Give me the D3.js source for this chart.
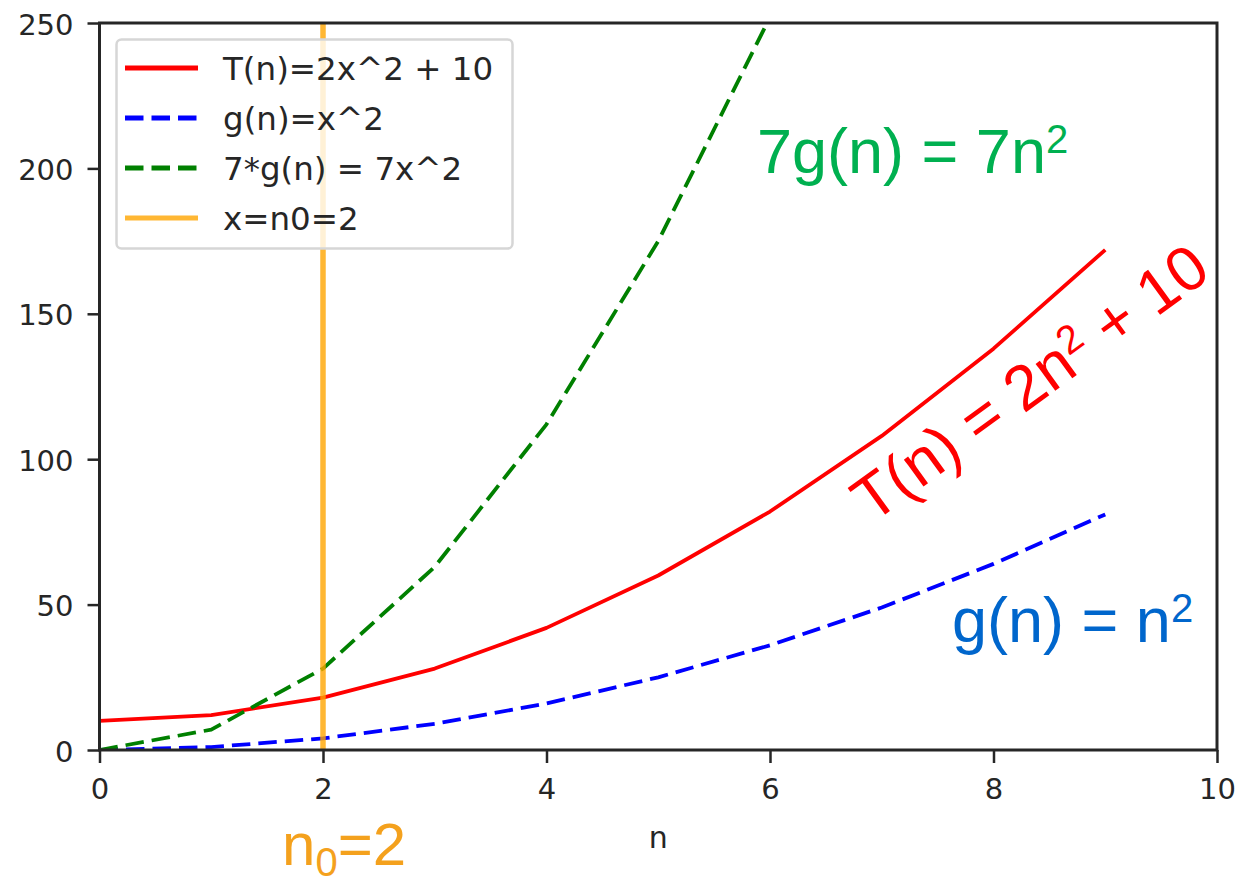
<!DOCTYPE html>
<html>
<head>
<meta charset="utf-8">
<script src="https://cdn.jsdelivr.net/npm/d3@7"></script>
<style>
  html, body { margin: 0; padding: 0; background: #fff; }
  svg { display: block; }
</style>
</head>
<body>
<svg id="chart" width="1235" height="886"></svg>
<script>
// ---------- data ----------
const nValues  = [0, 1, 2, 3, 4, 5, 6, 7, 8, 9];
const tValues  = [10, 12, 18, 28, 42, 60, 82, 108, 138, 172];   // T(n) = 2n^2 + 10
const gValues  = [0, 1, 4, 9, 16, 25, 36, 49, 64, 81];          // g(n) = n^2
const g7Values = [0, 7, 28, 63, 112, 175, 252, 343, 448, 567];  // 7 g(n)
const n0 = 2;
const xTicks = [0, 2, 4, 6, 8, 10];
const yTicks = [0, 50, 100, 150, 200, 250];
const xDomain = [0, 10];
const yDomain = [0, 250];
const legendLabels = ["T(n)=2x^2 + 10", "g(n)=x^2", "7*g(n) = 7x^2", "x=n0=2"];
const xLabel = "n";

// ---------- layout ----------
const svg = d3.select("#chart");
const plot = { left: 99.5, right: 1217, top: 23, bottom: 750 };
const x = d3.scaleLinear().domain(xDomain).range([plot.left, plot.right]);
const y = d3.scaleLinear().domain(yDomain).range([plot.bottom, plot.top]);

const tickFont = "'DejaVu Sans', sans-serif";
const annFont = "'Liberation Sans', Arial, sans-serif";
const ink = "#262626";

svg.append("rect").attr("width", 1235).attr("height", 886).attr("fill", "#fff");

svg.append("defs").append("clipPath").attr("id", "clip")
  .append("rect")
  .attr("x", plot.left).attr("y", plot.top)
  .attr("width", plot.right - plot.left).attr("height", plot.bottom - plot.top);

// ---------- series ----------
const line = vals => d3.line()
  .x((d, i) => x(nValues[i]))
  .y(d => y(d))(vals);

const series = [
  { vals: tValues,  color: "#ff0000", dash: null,     width: 3.8 },
  { vals: gValues,  color: "#0000ff", dash: "18.5,8", width: 3.8 },
  { vals: g7Values, color: "#008000", dash: "18.5,8", width: 3.8 }
];

const gPlot = svg.append("g").attr("clip-path", "url(#clip)");
series.forEach(s => {
  gPlot.append("path")
    .attr("d", line(s.vals))
    .attr("fill", "none")
    .attr("stroke", s.color)
    .attr("stroke-width", s.width)
    .attr("stroke-dasharray", s.dash)
    .attr("stroke-linejoin", "round");
});

// vertical line at n0
gPlot.append("line")
  .attr("x1", x(n0)).attr("x2", x(n0))
  .attr("y1", plot.top).attr("y2", plot.bottom)
  .attr("stroke", "#ffa500").attr("stroke-opacity", 0.8)
  .attr("stroke-width", 5.5);

// ---------- axes ----------
const xAxis = svg.append("g")
  .attr("transform", `translate(0,${plot.bottom})`)
  .call(d3.axisBottom(x).tickValues(xTicks).tickFormat(d3.format("d"))
        .tickSize(13).tickSizeOuter(0).tickPadding(15));
const yAxis = svg.append("g")
  .attr("transform", `translate(${plot.left},0)`)
  .call(d3.axisLeft(y).tickValues(yTicks).tickFormat(d3.format("d"))
        .tickSize(12).tickSizeOuter(0).tickPadding(14));

[xAxis, yAxis].forEach(a => {
  a.select(".domain").remove();
  a.selectAll(".tick line").attr("stroke", ink).attr("stroke-width", 2.5);
  a.selectAll(".tick text")
    .attr("fill", ink)
    .style("font-family", tickFont)
    .style("font-size", "29px");
});
yAxis.selectAll(".tick text").attr("dy", "0.38em");

// frame (spines)
svg.append("rect")
  .attr("x", plot.left).attr("y", plot.top)
  .attr("width", plot.right - plot.left).attr("height", plot.bottom - plot.top)
  .attr("fill", "none").attr("stroke", ink).attr("stroke-width", 3);

// x label
svg.append("text")
  .attr("x", (plot.left + plot.right) / 2).attr("y", 848)
  .attr("text-anchor", "middle")
  .attr("fill", ink)
  .style("font-family", tickFont).style("font-size", "30px")
  .text(xLabel);

// ---------- legend ----------
const legend = svg.append("g");
legend.append("rect")
  .attr("x", 116.5).attr("y", 39.5).attr("width", 396).attr("height", 209)
  .attr("rx", 5).attr("ry", 5)
  .attr("fill", "#fff").attr("fill-opacity", 0.8)
  .attr("stroke", "#d6d6d6").attr("stroke-width", 2.5);

const legendItems = [
  { color: "#ff0000", dash: null,     opacity: 1 },
  { color: "#0000ff", dash: "18.5,8", opacity: 1 },
  { color: "#008000", dash: "18.5,8", opacity: 1 },
  { color: "#ffa500", dash: null,     opacity: 0.8 }
];
legendItems.forEach((it, i) => {
  const cy = 68 + i * 50;
  legend.append("line")
    .attr("x1", 125).attr("x2", 198).attr("y1", cy).attr("y2", cy)
    .attr("stroke", it.color).attr("stroke-opacity", it.opacity)
    .attr("stroke-width", 5)
    .attr("stroke-dasharray", it.dash);
  legend.append("text")
    .attr("x", 223).attr("y", cy + 12)
    .attr("fill", ink)
    .style("font-family", tickFont).style("font-size", "32.5px")
    .text(legendLabels[i]);
});

// ---------- annotations ----------
function supText(sel, parts, supShift, subShift) {
  // parts: array of [text, kind] where kind: "n" normal, "sup", "sub"
  let shift = 0;
  parts.forEach(([t, kind]) => {
    const target = kind === "sup" ? -supShift : kind === "sub" ? subShift : 0;
    const ts = sel.append("tspan").attr("dy", target - shift).text(t);
    if (kind !== "n") ts.style("font-size", "40px");
    shift = target;
  });
}

const green = svg.append("text")
  .attr("x", 757).attr("y", 173)
  .attr("fill", "#00b050")
  .style("font-family", annFont).style("font-size", "63px");
supText(green, [["7g(n) = 7n", "n"], ["2", "sup"]], 20, 0);

const blue = svg.append("text")
  .attr("x", 952).attr("y", 642)
  .attr("fill", "#0066cc")
  .style("font-family", annFont).style("font-size", "63px");
supText(blue, [["g(n) = n", "n"], ["2", "sup"]], 20, 0);

const red = svg.append("text")
  .attr("transform", "translate(872,524) rotate(-36)")
  .attr("fill", "#ff0000")
  .style("font-family", annFont).style("font-size", "63px");
supText(red, [["T(n) = 2n", "n"], ["2", "sup"], ["\u00a0+ 10", "n"]], 20, 0);

const orange = svg.append("text")
  .attr("x", 282).attr("y", 865)
  .attr("fill", "#f4a11d")
  .style("font-family", annFont).style("font-size", "60px");
supText(orange, [["n", "n"], ["0", "sub"], ["=2", "n"]], 0, 11);
</script>
</body>
</html>
